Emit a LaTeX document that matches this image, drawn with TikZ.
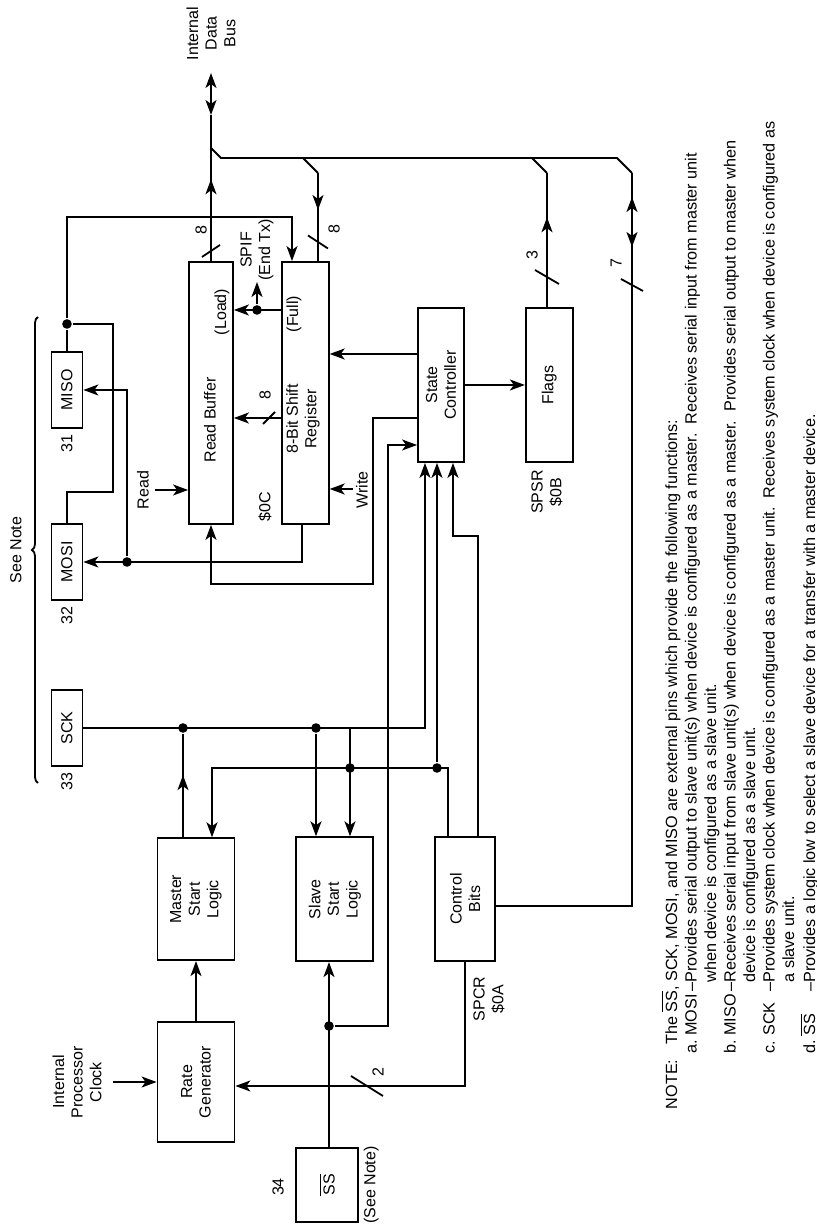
\documentclass[tikz,border=0pt]{standalone}
\usepackage{fontspec}
\setmainfont{Liberation Sans}
\usetikzlibrary{positioning,arrows.meta,decorations.pathreplacing,decorations.markings}

\tikzset{
  blk/.style={draw, line width=0.9pt, inner sep=1pt, align=center},
  pin/.style={blk, minimum width=38pt, minimum height=15.5pt},
  dot/.style={circle, fill, inner sep=0pt, minimum size=4.8pt},
  lbl/.style={inner sep=0pt, align=center},
  midarrow/.style={postaction={decorate}, decoration={markings,
      mark=at position #1 with {\arrow{Stealth[length=7.5pt,width=5.5pt,inset=2pt]}}}},
  notefont/.style={font=\fontsize{8.1}{9.75}\selectfont}
}

\begin{document}
\begin{tikzpicture}[x=0.5pt, y=0.5pt, line width=0.9pt, node distance=30pt,
    >={Stealth[length=7.5pt,width=5.5pt,inset=2pt]}, font=\fontsize{8}{9.3}\selectfont]
  \useasboundingbox (-816,0) rectangle (0,1230);
  \begin{scope}[transform canvas={rotate=90}]
  % start logic and control
  \node[blk, minimum width=60pt, minimum height=38.5pt] (ratgen) at (148,620) {Rate\\Generator};
  \node[blk, minimum width=61pt, minimum height=38.5pt, right=of ratgen] (master) {Master\\Start\\Logic};
  \node[blk, minimum width=62pt, minimum height=38.5pt, below=of master] (slave) {Slave\\Start\\Logic};
  \node[blk, minimum width=62pt, minimum height=30pt, below=of slave] (ctrl) {Control\\Bits};
  \node[blk, minimum width=37pt, minimum height=31pt] (ss) at (45,489) {$\overline{\mbox{SS}}$};
  % pins
  \node[pin] (sck) at (502,749) {SCK};
  \node[pin] (mosi) at (668,749) {MOSI};
  \node[pin] (miso) at (840,749) {MISO};
  % buffer, shift register, state
  \node[blk, minimum width=131pt, minimum height=22pt] (rdbuf) at (837,605) {};
  \node[blk, minimum width=131pt, minimum height=23.5pt, below=23.5pt of rdbuf] (shreg) {};
  \node[blk, minimum width=77pt, minimum height=23pt] (state) at (845,375) {State\\Controller};
  \node[blk, minimum width=77pt, minimum height=23.5pt, below=of state] (flags) {Flags};
  \node[lbl] (rdbuftxt) at (810,606) {Read Buffer};
  \node[lbl] (load) at (918,594) {(Load)};
  \node[lbl] (shregtxt) at (811,513) {8-Bit Shift\\Register};
  \node[lbl] (full) at (916,522) {(Full)};
  % register names and pin numbers
  \node[lbl] (spdr) at (723,551) {\$0C};
  \node[lbl] (spcr) at (231,327) {SPCR\\\$0A};
  \node[lbl] (spsr) at (738,269) {SPSR\\\$0B};
  \node[lbl, left=2.5pt of miso] (pin31) {31};
  \node[lbl, left=2.5pt of mosi] (pin32) {32};
  \node[lbl, left=2.5pt of sck] (pin33) {33};
  \node[lbl] (pin34) at (43,538) {34};
  \node[lbl, below=2pt of ss] (ssnote) {(See Note)};
  \draw[decorate, decoration={brace, amplitude=3pt}] (447,778) -- (913,778);
  \node[lbl] (seenote) at (680,800) {See Note};
  % junctions
  \node[dot] (dsck1) at (502,633) {};
  \node[dot] (dsck2) at (502,500) {};
  \node[dot] (dctl1) at (462,466) {};
  \node[dot] (dctl2) at (462,379) {};
  \node[dot] (dss) at (204,487) {};
  \node[dot] (dmosi) at (668,689) {};
  \node[dot] (dmiso) at (906,749) {};
  \node[dot] (dspif) at (920,559) {};
  % clock
  \coordinate (clkin) at (148,703);
  \node[lbl] (clklbl) at (148,739) {Internal\\Processor\\Clock};
  \draw[->] (clkin) -- (ratgen.north);
  \draw[->] (ratgen) -- (master);
  % SCK
  \draw[->] (sck.south) |- ([yshift=8pt]state.west);
  \draw[midarrow=0.6] (master.east |- dsck1) -- (dsck1);
  \draw[->] (dsck2) -- (slave.east |- dsck2);
  % control bits
  \draw[->] (ctrl.east |- 0,368) -| (dctl1.center |- 0,604) -- (master.east |- 0,604);
  \draw[->] (sck.south |- dctl1) -- (slave.east |- dctl1);
  \draw[->] (dctl2) -- (state.west |- dctl2);
  \draw[->] (ctrl.east |- 0,338) -| (694,363) -- (state.west |- 0,363);
  \draw[->] (ctrl.west) -| (ratgen.south -| 144,0);
  \draw (144,449) ++(-10,-16) -- ++(20,32);
  \node[lbl] (bus2) at (158,438) {2};
  % slave select
  \draw[->] (ss.east |- dss) -- (slave.west |- dss);
  \draw[->] (dss) |- (785,428) -- (state.north -| 785,0);
  % state controller
  \draw[->] (state.north -| 812,0) |- (646,443) |- (rdbuf.west);
  \draw[->] (state.north -| 876,0) -- (shreg.south -| 876,0);
  \draw[->] (state) -- (flags);
  % read / write
  \coordinate (readin) at (740,661);
  \node[lbl] (readlbl) at (740,673) {Read};
  \draw[->] (readin) -- (rdbuf.north -| readin);
  \coordinate (writein) at (741,463);
  \node[lbl] (writelbl) at (740,454) {Write};
  \draw[->] (writein) -- (shreg.south -| writein);
  % shift register to buffer
  \draw[->] (shreg.north -| 812,0) -- (rdbuf.south -| 812,0);
  \draw (812,547) ++(-6,6) -- ++(12,-12);
  \node[lbl] (bus8b) at (835,551) {8};
  \draw[->] (shreg.north -| dspif) -- (rdbuf.south -| dspif);
  \coordinate (spifout) at (948,559);
  \draw[->] (dspif) -- (spifout);
  \node[lbl] (spif) at (980,559) {SPIF\\(End Tx)};
  % MOSI / MISO
  \draw[->] (shreg.west |- 0,514) -| (mosi.south);
  \draw[->] (dmosi) -| (miso.south);
  \draw (mosi.east) -| (738,703) -| (dmiso);
  \draw (miso.east) -- (dmiso);
  \draw[->] (dmiso) -| (1013,524) -- (shreg.east |- 0,524);
  % data bus
  \coordinate (busend) at (1157,605);
  \draw[midarrow=0.56] (rdbuf.east) -- (1115,605);
  \draw[<->] (1115,605) -- (busend);
  \draw (979,605) ++(-6,9) -- ++(12,-18);
  \node[lbl] (bus8a) at (1000,615) {8};
  \node[lbl, right=6pt of busend] (buslbl) {Internal\\Data\\Bus};
  \draw (1082,605) -- (1072,595) -- (1072,199) -- (1057,184);
  \draw (ctrl.south -| 324,0) |- (1057,184);
  \draw[<->] (983,184) -- (1033,184);
  \draw (945,184) ++(-6,-11) -- ++(12,22);
  \node[lbl] (bus7) at (967,200) {7};
  \draw (1072,513) -- (1057,498);
  \draw[midarrow=0.42] (1057,498) -- (shreg.east |- 0,498);
  \draw (988,498) ++(-6.5,-10) -- ++(13,20);
  \node[lbl] (bus8c) at (1001,482) {8};
  \draw (1072,284) -- (1057,269);
  \draw[midarrow=0.67] (flags.east |- 0,269) -- (1057,269);
  \draw (953,269) ++(-7,-12) -- ++(14,24);
  \node[lbl] (bus3) at (975,284) {3};
  % note
  \node[notefont, anchor=base west, inner sep=0pt] (note) at (120,139) {%
    \begin{tabular}[t]{@{}l@{\hspace{3pt}}l@{\ }l@{\,}l@{}}
    NOTE: & \multicolumn{3}{@{}l@{}}{\hspace{4.5pt}The $\overline{\mbox{SS}}$, SCK, MOSI, and MISO are external pins which provide the following functions:}\\
    & a. & MOSI & --Provides serial output to slave unit(s) when device is configured as a master.\ \ Receives serial input from master unit\\
    & & & \hphantom{--}when device is configured as a slave unit.\\
    & b. & MISO & --Receives serial input from slave unit(s) when device is configured as a master.\ \ Provides serial output to master when\\
    & & & \hphantom{--}device is configured as a slave unit.\\
    & c. & SCK & --Provides system clock when device is configured as a master unit.\ \ Receives system clock when device is configured as\\
    & & & \hphantom{--}a slave unit.\\
    & d. & $\overline{\mbox{SS}}$ & --Provides a logic low to select a slave device for a transfer with a master device.
    \end{tabular}};
  \end{scope}
\end{tikzpicture}
\end{document}
